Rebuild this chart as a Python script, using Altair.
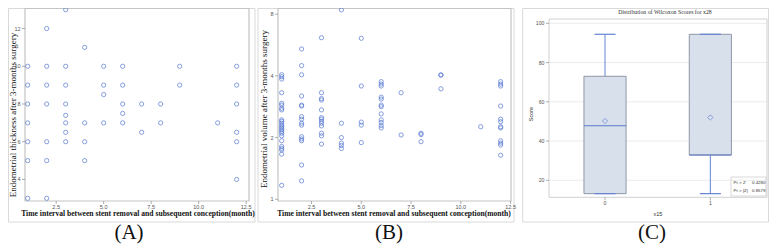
import altair as alt
import pandas as pd

# ---------------- data ----------------
# Panel A: endometrial thickness vs interval
a_month = [1]*7 + [2]*7 + [3]*8 + [4]*4 + [5]*4 + [6]*5 + [7]*2 + [8]*2 + [9]*2 + [11] + [12]*6
a_thick = [10, 9, 8, 7, 6, 5, 3,
           12, 10, 9, 8, 6, 5, 3,
           13, 10, 9, 8, 7.4, 7, 6.5, 6,
           11, 7, 6, 5,
           10, 9, 8.5, 7,
           10, 9, 8, 7.5, 7,
           8, 6.5,
           8, 7,
           10, 9,
           7,
           10, 9, 8, 6.5, 6, 4]

# Panel B: endometrial volume vs interval (log2 axis)
b_month = [1]*24 + [2]*15 + [3]*13 + [4]*6 + [5]*5 + [6]*12 + [7]*2 + [8]*3 + [9]*3 + [11] + [12]*12
b_volume = [4.05, 3.96, 3.86, 3.31, 2.94, 2.88, 2.78, 2.73, 2.44, 2.40, 2.35, 2.30,
            2.26, 2.22, 2.18, 2.14, 2.10, 2.04, 1.93, 1.81, 1.77, 1.74, 1.66, 1.17,
            5.41, 4.49, 4.05, 3.19, 2.88, 2.85, 2.53, 2.46, 2.35, 2.30, 2.02, 1.97, 1.93, 1.47, 1.23,
            6.14, 3.31, 3.10, 3.05, 2.73, 2.50, 2.46, 2.40, 2.35, 2.28, 2.10, 2.04, 1.86,
            8.39, 2.35, 2.00, 1.88, 1.83, 1.77,
            6.10, 3.57, 2.38, 2.30, 1.89,
            3.75, 3.65, 3.57, 3.15, 3.08, 2.88, 2.83, 2.61, 2.44, 2.37, 2.29, 2.23,
            3.31, 2.06,
            2.10, 2.07, 1.91,
            4.04, 4.04, 3.46,
            2.26,
            3.75, 3.65, 3.57, 2.85, 2.46, 2.39, 2.26, 2.23, 1.93, 1.88, 1.84, 1.64]

# Panel C: Wilcoxon score box plot
c_group = [0, 1]
c_min = [13.2, 13.2]
c_q1 = [13.2, 32.9]
c_median = [47.8, 32.9]
c_q3 = [73.0, 94.4]
c_max = [94.4, 94.4]
c_mean = [50.2, 52.0]
c_stat_names = ["Pr > Z", "Pr > |Z|"]
c_stat_values = ["0.4280", "0.8579"]

# tick labels
ab_xticks = [2.5, 5.0, 7.5, 10.0, 12.5]
ab_xlabels = ["2.5", "5.0", "7.5", "10.0", "12.5"]
a_yticks = [4, 6, 8, 10, 12]
b_yticks = [1, 2, 4, 8]
c_yticks = [20, 40, 60, 80, 100]
c_xlabels = ["0", "1"]

# ---------------- layout helpers ----------------
W, H = 761, 236
OFF = 8


def px(v):
    return v - OFF


def py(v):
    return v - OFF


dummy = pd.DataFrame({"d": [0]})
SERIF = "Liberation Serif"
SANS = "Liberation Sans"
PT = "#5275d2"


def frame(x0, y0, x1, y1, color, sw=1.0):
    return alt.Chart(dummy).mark_rect(filled=False, stroke=color, strokeWidth=sw).encode(
        x=alt.value(px(x0)), x2=alt.value(px(x1)), y=alt.value(py(y0)), y2=alt.value(py(y1)))


def label(text, x, y, size, angle=0, font=SERIF, weight="normal", color="#111",
          align="center", baseline="middle"):
    return alt.Chart(dummy).mark_text(text=text, fontSize=size, angle=angle, font=font,
                                      fontWeight=weight, color=color, align=align,
                                      baseline=baseline).encode(
        x=alt.value(px(x)), y=alt.value(py(y)))


def xticks(values, labels, scale, y_axis, fmt_size=5.5, tick_len=3, color="#555"):
    df = pd.DataFrame({"v": values, "t": labels})
    ticks = alt.Chart(df).mark_rule(color="#999", strokeWidth=0.8).encode(
        x=alt.X("v:Q", scale=scale, axis=None),
        y=alt.value(py(y_axis)), y2=alt.value(py(y_axis + tick_len)))
    texts = alt.Chart(df).mark_text(fontSize=fmt_size, font=SANS, color=color, baseline="top").encode(
        x=alt.X("v:Q", scale=scale, axis=None), y=alt.value(py(y_axis + tick_len + 1)), text="t:N")
    return [ticks, texts]


def yticks(values, scale, x_axis, fmt_size=5.5, tick_len=3, color="#555"):
    df = pd.DataFrame({"v": values, "t": [str(v) for v in values]})
    ticks = alt.Chart(df).mark_rule(color="#999", strokeWidth=0.8).encode(
        y=alt.Y("v:Q", scale=scale, axis=None),
        x=alt.value(px(x_axis - tick_len)), x2=alt.value(px(x_axis)))
    texts = alt.Chart(df).mark_text(fontSize=fmt_size, font=SANS, color=color, align="right").encode(
        y=alt.Y("v:Q", scale=scale, axis=None), x=alt.value(px(x_axis - tick_len - 1.5)), text="t:N")
    return [ticks, texts]


layers = []

# ---------------- Panel A ----------------
A_X = alt.Scale(domain=[0.858, 12.65], range=[px(25), px(249)], nice=False, zero=False)
A_Y = alt.Scale(domain=[2.857, 13.196], range=[py(201), py(6)], nice=False, zero=False)
layers.append(frame(8.5, 8.5, 255, 222, "#d9d9d9"))
layers.append(frame(25, 8.5, 249, 201, "#c4c4c4", 1.2))
dfa = pd.DataFrame({"m": a_month, "v": a_thick})
layers.append(alt.Chart(dfa).mark_point(shape="circle", filled=False, size=18, color=PT, strokeWidth=1).encode(
    x=alt.X("m:Q", scale=A_X, axis=None), y=alt.Y("v:Q", scale=A_Y, axis=None)))
layers += xticks(ab_xticks, ab_xlabels, A_X, 201)
layers += yticks(a_yticks, A_Y, 25)
layers.append(label("Endometrial thickness after 3-months surgery", 12.5, 115, 9, angle=270))
layers.append(label("Time interval between stent removal and subsequent conception(month)",
                    138, 214, 7.6, weight="bold"))
layers.append(label("(A)", 129, 233, 21))

# ---------------- Panel B ----------------
B_X = alt.Scale(domain=[0.815, 12.52], range=[px(278), px(511)], nice=False, zero=False)
B_Y = alt.Scale(type="log", base=2, domain=[0.981, 8.72], range=[py(201), py(6.5)], nice=False)
layers.append(frame(258, 8.5, 514, 222, "#d9d9d9"))
layers.append(frame(278, 8.5, 511, 201, "#c4c4c4", 1.2))
dfb = pd.DataFrame({"m": b_month, "v": b_volume})
layers.append(alt.Chart(dfb).mark_point(shape="circle", filled=False, size=18, color=PT, strokeWidth=1).encode(
    x=alt.X("m:Q", scale=B_X, axis=None), y=alt.Y("v:Q", scale=B_Y, axis=None)))
layers += xticks(ab_xticks, ab_xlabels, B_X, 201)
layers += yticks(b_yticks, B_Y, 278)
layers.append(label("Endometrial volume after 3-months surgery", 264, 109, 9, angle=270))
layers.append(label("Time interval between stent removal and subsequent conception(month)",
                    394, 214, 7.6, weight="bold"))
layers.append(label("(B)", 389, 233, 21))

# ---------------- Panel C ----------------
C_X = alt.Scale(domain=[-0.532, 1.538], range=[px(549), px(767)], nice=False, zero=False)
C_Y = alt.Scale(domain=[11.34, 102.19], range=[py(197.3), py(19)], nice=False, zero=False)
layers.append(frame(522.7, 8.5, 768.5, 222, "#d9d9d9"))
dfg = pd.DataFrame({"v": c_yticks})
layers.append(alt.Chart(dfg).mark_rule(color="#ececec", strokeWidth=1).encode(
    y=alt.Y("v:Q", scale=C_Y, axis=None), x=alt.value(px(549)), x2=alt.value(px(767))))
layers.append(frame(549, 19, 767, 197.3, "#d0d0d0", 1))
dfc = pd.DataFrame({"g": c_group, "lo": c_min, "q1": c_q1, "med": c_median,
                    "q3": c_q3, "hi": c_max, "mean": c_mean})
base_c = alt.Chart(dfc).transform_calculate(
    gl="datum.g - 0.2", gr="datum.g + 0.2", cl="datum.g - 0.1", cr="datum.g + 0.1")
WH = "#6583d4"
layers.append(base_c.mark_rule(color=WH, strokeWidth=1).encode(
    x=alt.X("g:Q", scale=C_X, axis=None), y=alt.Y("q3:Q", scale=C_Y, axis=None), y2="hi:Q"))
layers.append(base_c.mark_rule(color=WH, strokeWidth=1).encode(
    x=alt.X("g:Q", scale=C_X, axis=None), y=alt.Y("lo:Q", scale=C_Y, axis=None), y2="q1:Q"))
layers.append(base_c.mark_rect(fill="#d8e0ec", stroke="#8e96a8", strokeWidth=1).encode(
    x=alt.X("gl:Q", scale=C_X, axis=None), x2="gr:Q",
    y=alt.Y("q1:Q", scale=C_Y, axis=None), y2="q3:Q"))
layers.append(base_c.mark_rule(color=WH, strokeWidth=1.2).encode(
    x=alt.X("cl:Q", scale=C_X, axis=None), x2="cr:Q", y=alt.Y("hi:Q", scale=C_Y, axis=None)))
layers.append(base_c.mark_rule(color=WH, strokeWidth=1.2).encode(
    x=alt.X("cl:Q", scale=C_X, axis=None), x2="cr:Q", y=alt.Y("lo:Q", scale=C_Y, axis=None)))
layers.append(base_c.mark_rule(color="#5a78c8", strokeWidth=1.2).encode(
    x=alt.X("gl:Q", scale=C_X, axis=None), x2="gr:Q", y=alt.Y("med:Q", scale=C_Y, axis=None)))
layers.append(base_c.mark_point(shape="diamond", filled=False, size=28, color=WH, strokeWidth=1).encode(
    x=alt.X("g:Q", scale=C_X, axis=None), y=alt.Y("mean:Q", scale=C_Y, axis=None)))
layers += yticks(c_yticks, C_Y, 549, fmt_size=5.2)
layers += xticks(c_group, c_xlabels, C_X, 197.3, fmt_size=5.2)
layers.append(label("Distribution of Wilcoxon Scores for x28", 665, 11.5, 5.8, font=SERIF, color="#333"))
layers.append(label("Score", 531, 114, 5.5, angle=270, font=SANS, color="#333"))
layers.append(label("x15", 658, 214, 5.5, font=SANS, color="#333"))
# inset statistics box
layers.append(frame(731, 177, 766, 196, "#cfcfcf", 0.8))
dfs = pd.DataFrame({"n": c_stat_names, "s": c_stat_values, "r": [0, 1]})
ST_Y = alt.Scale(domain=[0, 1], range=[py(182.5), py(190.8)])
layers.append(alt.Chart(dfs).mark_text(fontSize=4.4, font=SANS, color="#333", align="left").encode(
    y=alt.Y("r:Q", scale=ST_Y, axis=None), x=alt.value(px(733.5)), text="n:N"))
layers.append(alt.Chart(dfs).mark_text(fontSize=4.4, font=SANS, color="#333", align="left").encode(
    y=alt.Y("r:Q", scale=ST_Y, axis=None), x=alt.value(px(752)), text="s:N"))
layers.append(label("(C)", 652, 233, 21))

chart = alt.layer(*layers).resolve_scale(x="independent", y="independent").properties(
    width=W, height=H, autosize=alt.AutoSizeParams(type="none"), padding=0
).configure_view(stroke=None)

chart.save("out.html", embed_options={"renderer": "svg", "actions": False})
